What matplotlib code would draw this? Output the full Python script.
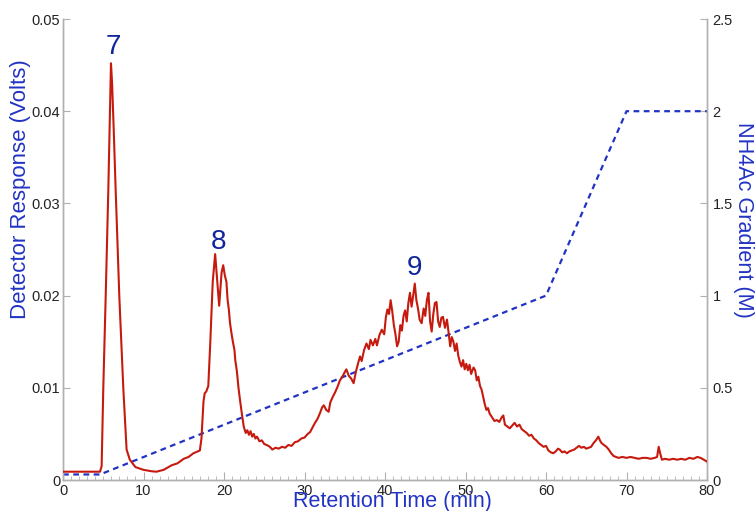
import matplotlib
matplotlib.use("Agg")
import matplotlib.pyplot as plt
from matplotlib.ticker import MultipleLocator

plt.rcParams['font.family'] = ['Liberation Sans', 'DejaVu Sans']

# Chromatogram: retention time (min) and detector response (V)
time_min = [
    0.0, 4.6, 4.8, 5.0, 5.3, 5.63, 5.85, 5.96, 6.1, 6.3, 6.54, 7.0, 7.5, 7.9, 8.3,
    9.0, 10.0, 11.0, 11.6, 12.5, 13.5, 14.2, 15.0, 15.6, 16.2, 17.0, 17.2, 17.45,
    17.6, 17.8, 18.05, 18.3, 18.6, 18.9, 19.1, 19.4, 19.7, 19.9, 20.1, 20.3, 20.45,
    20.6, 20.75, 20.95, 21.1, 21.3, 21.4, 21.6, 21.8, 22.0, 22.2, 22.45, 22.7, 22.9,
    23.1, 23.3, 23.5, 23.7, 23.9, 24.1, 24.4, 24.7, 25.0, 25.3, 25.7, 26.0, 26.4,
    26.8, 27.2, 27.6, 28.0, 28.4, 28.8, 29.2, 29.6, 30.0, 30.4, 30.7, 31.0, 31.3,
    31.6, 31.9, 32.2, 32.4, 32.7, 33.0, 33.2, 33.5, 33.8, 34.1, 34.4, 34.7, 35.0,
    35.2, 35.5, 35.8, 36.1, 36.4, 36.7, 36.9, 37.1, 37.4, 37.7, 38.0, 38.2, 38.5,
    38.8, 39.0, 39.3, 39.6, 39.9, 40.1, 40.3, 40.5, 40.7, 40.9, 41.1, 41.3, 41.5,
    41.7, 41.9, 42.1, 42.3, 42.5, 42.7, 42.9, 43.1, 43.3, 43.5, 43.7, 43.9, 44.1,
    44.3, 44.55, 44.8, 45.0, 45.2, 45.4, 45.6, 45.8, 46.0, 46.2, 46.4, 46.6, 46.8,
    47.0, 47.2, 47.45, 47.7, 47.9, 48.1, 48.3, 48.5, 48.7, 48.9, 49.1, 49.3, 49.5,
    49.7, 49.9, 50.1, 50.3, 50.5, 50.7, 51.0, 51.2, 51.4, 51.6, 51.8, 52.0, 52.2,
    52.4, 52.6, 52.8, 53.0, 53.3, 53.6, 53.9, 54.2, 54.5, 54.7, 54.9, 55.2, 55.5,
    55.8, 56.1, 56.4, 56.7, 57.0, 57.3, 57.6, 57.9, 58.2, 58.5, 58.8, 59.1, 59.4,
    59.7, 60.0, 60.3, 60.6, 60.9, 61.2, 61.5, 61.7, 62.0, 62.3, 62.6, 62.9, 63.2,
    63.5, 63.8, 64.1, 64.4, 64.7, 65.0, 65.3, 65.6, 65.9, 66.2, 66.5, 66.7, 66.9,
    67.2, 67.5, 67.8, 68.1, 68.4, 68.7, 69.0, 69.5, 70.0, 70.5, 71.0, 71.5, 72.0,
    72.5, 73.0, 73.5, 73.8, 74.0, 74.15, 74.4, 74.8, 75.3, 75.8, 76.3, 76.8, 77.3,
    77.8, 78.3, 78.8, 79.2, 79.6, 80.0,
]
response_v = [
    0.0009, 0.0009, 0.0015, 0.0098, 0.0198, 0.0315, 0.0410, 0.0452, 0.0430, 0.0380,
    0.0315, 0.0198, 0.0098, 0.0033, 0.0022, 0.0014, 0.0011, 0.00095, 0.0009, 0.0011,
    0.0016, 0.0018, 0.0023, 0.0025, 0.0029, 0.0032, 0.0045, 0.0085, 0.0094, 0.0096,
    0.0102, 0.0150, 0.0215, 0.0245, 0.0222, 0.0189, 0.0225, 0.0233, 0.0222, 0.0215,
    0.0195, 0.0185, 0.0170, 0.0158, 0.0150, 0.0141, 0.0130, 0.0118, 0.0100, 0.0086,
    0.0073, 0.0058, 0.0051, 0.0054, 0.0049, 0.0053, 0.0047, 0.0050, 0.0045, 0.0047,
    0.0042, 0.0043, 0.0039, 0.0038, 0.0036, 0.0033, 0.0035, 0.0034, 0.0036, 0.0035,
    0.0038, 0.0037, 0.0041, 0.0042, 0.0045, 0.0046, 0.0050, 0.0052, 0.0057, 0.0062,
    0.0066, 0.0072, 0.0079, 0.0081, 0.0076, 0.0074, 0.0084, 0.0090, 0.0095, 0.0101,
    0.0108, 0.0112, 0.0117, 0.0120, 0.0113, 0.0110, 0.0105, 0.0118, 0.0128, 0.0134,
    0.0129, 0.0141, 0.0148, 0.0142, 0.0152, 0.0146, 0.0153, 0.0146, 0.0157, 0.0163,
    0.0158, 0.0176, 0.0185, 0.0180, 0.0195, 0.0183, 0.0168, 0.0158, 0.0145, 0.0150,
    0.0168, 0.0162, 0.0178, 0.0184, 0.0172, 0.0192, 0.0203, 0.0188, 0.0200, 0.0213,
    0.0195, 0.0186, 0.0174, 0.0170, 0.0186, 0.0178, 0.0195, 0.0203, 0.0172, 0.0161,
    0.0180, 0.0192, 0.0193, 0.0172, 0.0166, 0.0176, 0.0177, 0.0165, 0.0174, 0.0160,
    0.0145, 0.0155, 0.0150, 0.0140, 0.0148, 0.0135, 0.0128, 0.0123, 0.0130, 0.0120,
    0.0126, 0.0119, 0.0125, 0.0115, 0.0122, 0.0119, 0.0108, 0.0112, 0.0102, 0.0098,
    0.0090, 0.0082, 0.0076, 0.0078, 0.0072, 0.0068, 0.0064, 0.0065, 0.0063, 0.0068,
    0.0070, 0.0060, 0.0058, 0.0056, 0.0059, 0.0062, 0.0058, 0.0060, 0.0055, 0.0053,
    0.0051, 0.0048, 0.0049, 0.0045, 0.0043, 0.0040, 0.0038, 0.0036, 0.0037, 0.0032,
    0.0030, 0.0029, 0.0031, 0.0034, 0.0033, 0.0030, 0.0031, 0.0029, 0.0031, 0.0032,
    0.0033, 0.0035, 0.0037, 0.0035, 0.0036, 0.0034, 0.0035, 0.0036, 0.0040, 0.0043,
    0.0047, 0.0043, 0.0040, 0.0038, 0.0036, 0.0033, 0.0029, 0.0026, 0.0025, 0.0024,
    0.0025, 0.0024, 0.0025, 0.0024, 0.0023, 0.0024, 0.0024, 0.0023, 0.0024, 0.0025,
    0.0036, 0.0030, 0.0022, 0.0023, 0.0022, 0.0023, 0.0022, 0.0023, 0.0022, 0.0024,
    0.0023, 0.0025, 0.0024, 0.0022, 0.0020,
]

# NH4Ac gradient program (M)
gradient_time = [0.0, 4.6, 60.0, 70.0, 80.0]
gradient_conc = [0.03, 0.03, 1.0, 2.0, 2.0]

# Peak annotations
peak_labels = ["7", "8", "9"]
peak_label_time = [6.3, 19.3, 43.7]
peak_label_resp = [0.0470, 0.0258, 0.0230]

RED = "#c61a0e"
BLUE = "#2233c4"
NAVY = "#10259a"
SPINE = "#b0b0b0"

fig = plt.figure(figsize=(7.56, 5.11), dpi=100)
ax = fig.add_axes([63 / 756, 1 - 480 / 511, (707 - 63) / 756, (480 - 19) / 511])
ax2 = ax.twinx()

ax.plot(time_min, response_v, color=RED, lw=1.5, zorder=3)
ax2.plot(gradient_time, gradient_conc, color=BLUE, lw=1.6, ls=(0, (2.6, 2.0)), zorder=2)
ax.set_zorder(ax2.get_zorder() + 1)
ax.patch.set_visible(False)

for lab, t, r in zip(peak_labels, peak_label_time, peak_label_resp):
    ax.text(t, r, lab, color=NAVY, fontsize=20, ha="center", va="center")

ax.set_xlim(0, 80)
ax.set_ylim(0, 0.05)
ax2.set_ylim(0, 2.5)

ax.set_xticks([0, 10, 20, 30, 40, 50, 60, 70, 80])
ax.xaxis.set_minor_locator(MultipleLocator(1))
ax.set_yticks([0, 0.01, 0.02, 0.03, 0.04, 0.05])
ax.set_yticklabels(["0", "0.01", "0.02", "0.03", "0.04", "0.05"])
ax2.set_yticks([0, 0.5, 1, 1.5, 2, 2.5])
ax2.set_yticklabels(["0", "0.5", "1", "1.5", "2", "2.5"])

for a in (ax, ax2):
    a.spines["top"].set_visible(False)
    for s in ("left", "right", "bottom"):
        a.spines[s].set_color(SPINE)
        a.spines[s].set_linewidth(1.0)

ax.tick_params(axis="x", which="major", direction="in", length=6, color=SPINE,
               labelsize=10.5, labelcolor="#222222", pad=3)
ax.tick_params(axis="x", which="minor", direction="in", length=3, color=SPINE)
ax.tick_params(axis="y", direction="in", length=5, color=SPINE,
               labelsize=10.5, labelcolor="#222222", pad=2)
ax2.tick_params(axis="y", direction="in", length=5, color=SPINE,
                labelsize=10.5, labelcolor="#222222", pad=4)

ax.set_xlabel("Retention Time (min)", color=BLUE, fontsize=15.5, va="center")
ax.xaxis.set_label_coords(0.512, -0.046)
ax.set_ylabel("Detector Response (Volts)", color=BLUE, fontsize=16, va="center")
ax.yaxis.set_label_coords(-0.066, 0.63)
ax2.set_ylabel("NH4Ac Gradient (M)", color=BLUE, fontsize=15.6, rotation=270,
               va="center")
ax2.yaxis.set_label_coords(1.0567, 0.564)

fig.savefig("out.png", dpi=100)
